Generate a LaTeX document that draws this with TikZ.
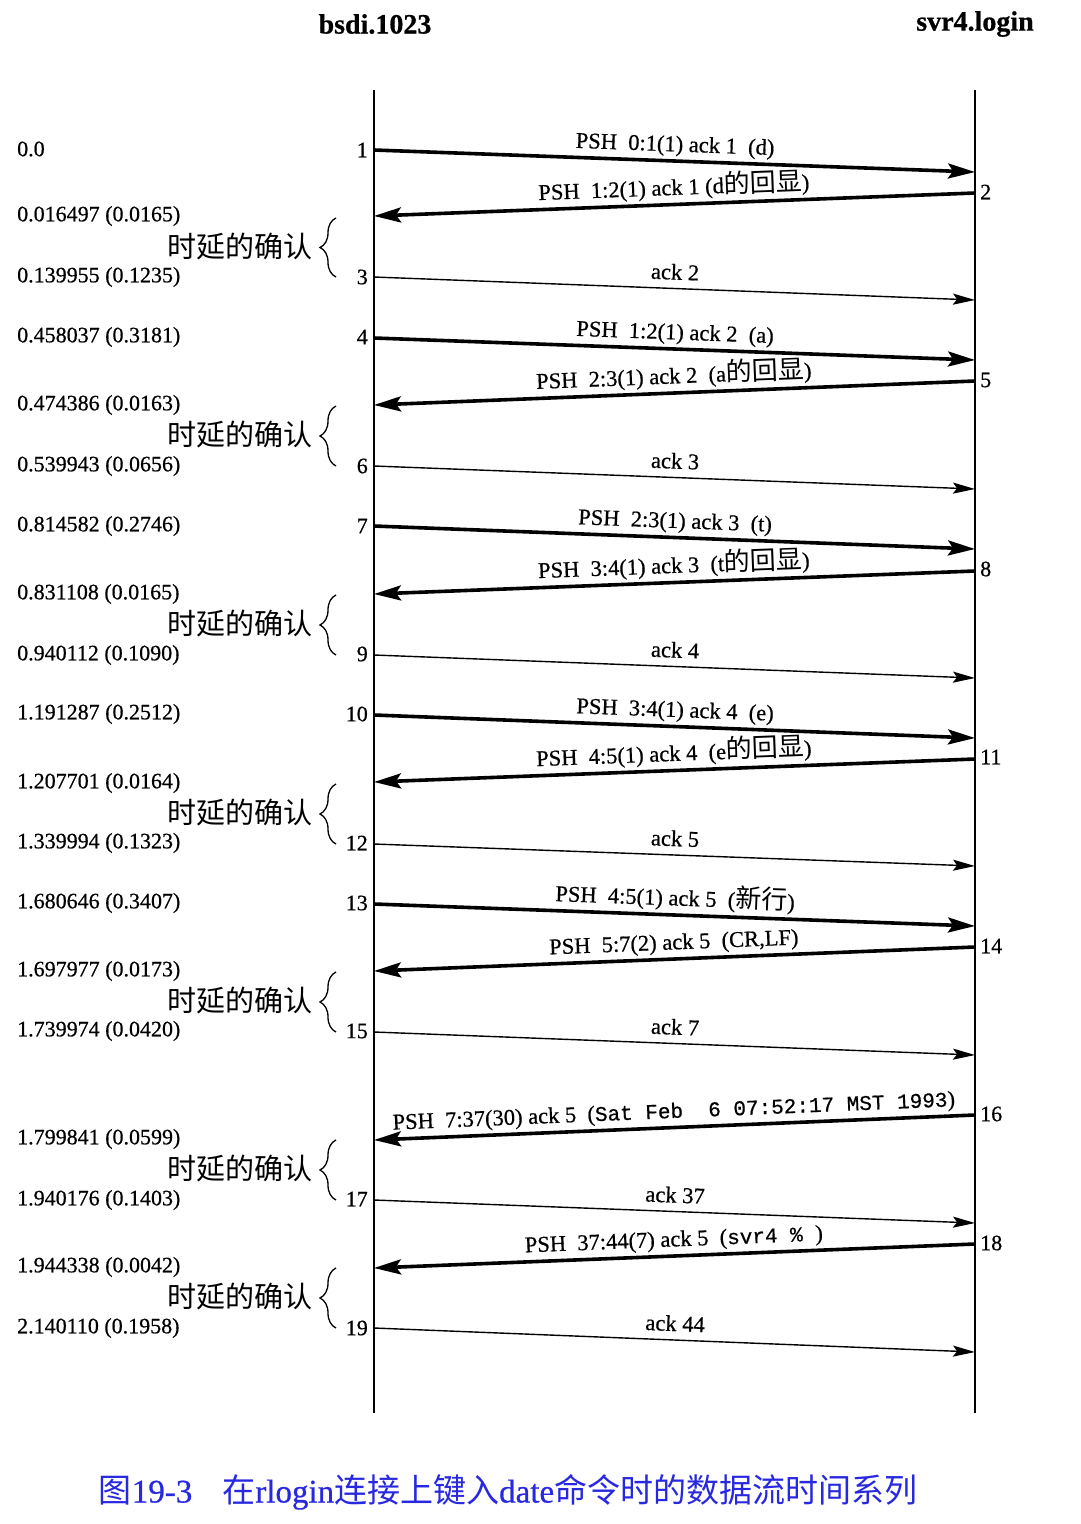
\documentclass[tikz,border=0pt]{standalone}
\usepackage{fontspec}
\setmainfont{Liberation Serif}[FakeBold=0.6]
\newfontfamily\cjk{Noto Sans CJK SC}
\newfontfamily\monof{Liberation Mono}[FakeBold=0.6]
\usetikzlibrary{arrows.meta,decorations.pathreplacing}
\newcommand\zh[1]{{\fontsize{26}{26}\selectfont\cjk #1}}
\definecolor{capblue}{RGB}{40,40,225}
\begin{document}
\begin{tikzpicture}[x=1pt,y=-1pt,
  lifeline/.style={line width=1.8pt},
  heavy/.style={line width=3.6pt,-{Stealth[length=27pt,width=15pt,inset=5pt]}},
  light/.style={line width=1.4pt,-{Stealth[length=22pt,width=11pt,inset=4pt]}},
  msg/.style={font=\fontsize{22.5}{22.5}\selectfont, sloped, above=2pt, midway, inner sep=1pt},
  lmsg/.style={msg, above=5pt},
  host/.style={font=\bfseries\fontsize{28}{28}\selectfont},
  tlab/.style={anchor=west, font=\fontsize{22}{22}\selectfont, inner sep=0pt},
  nleft/.style={anchor=east, font=\fontsize{22}{22}\selectfont, inner sep=1pt},
  nright/.style={anchor=west, font=\fontsize{22}{22}\selectfont, inner sep=1pt},
  dlab/.style={anchor=east, font=\fontsize{29}{29}\selectfont\cjk, inner sep=0pt},
  brc/.style={decorate, decoration={brace, amplitude=16pt}, line width=1.3pt},
  captionstyle/.style={font=\fontsize{33}{33}\selectfont, text=capblue}]
\useasboundingbox (0,0) rectangle (1080,1524);
\fill[white] (0,0) rectangle (1080,1524);

% hosts
\node[host] (hA) at (375,24) {bsdi.1023};
\node[host] (hB) at (975,24) {svr4.login};

% lifelines
\coordinate (Atop) at (374,90); \coordinate (Abot) at (374,1413);
\coordinate (Btop) at (975,90); \coordinate (Bbot) at (975,1413);
\draw[lifeline] (Atop) -- (Abot);
\draw[lifeline] (Btop) -- (Bbot);

% message end points
\coordinate (L1) at (374,150);  \coordinate (R1) at (975,172);
\coordinate (R2) at (975,193);  \coordinate (L2) at (374,216);
\coordinate (L3) at (374,277);  \coordinate (R3) at (975,300);
\coordinate (L4) at (374,338);  \coordinate (R4) at (975,360);
\coordinate (R5) at (975,381);  \coordinate (L5) at (374,405);
\coordinate (L6) at (374,466);  \coordinate (R6) at (975,489);
\coordinate (L7) at (374,526);  \coordinate (R7) at (975,549);
\coordinate (R8) at (975,571);  \coordinate (L8) at (374,594);
\coordinate (L9) at (374,655);  \coordinate (R9) at (975,678);
\coordinate (L10) at (374,715); \coordinate (R10) at (975,738);
\coordinate (R11) at (975,759); \coordinate (L11) at (374,782);
\coordinate (L12) at (374,844); \coordinate (R12) at (975,866);
\coordinate (L13) at (374,904); \coordinate (R13) at (975,926);
\coordinate (R14) at (975,947); \coordinate (L14) at (374,971);
\coordinate (L15) at (374,1032); \coordinate (R15) at (975,1055);
\coordinate (R16) at (975,1115); \coordinate (L16) at (374,1140);
\coordinate (L17) at (374,1200); \coordinate (R17) at (975,1223);
\coordinate (R18) at (975,1244); \coordinate (L18) at (374,1268);
\coordinate (L19) at (374,1328); \coordinate (R19) at (975,1352);

% messages
\draw[heavy] (L1) -- (R1) node[msg] {PSH\ \ 0:1(1) ack 1\ \ (d)};
\draw[heavy] (R2) -- (L2) node[msg] {PSH\ \ 1:2(1) ack 1 (d\zh{的回显})};
\draw[light] (L3) -- (R3) node[lmsg] {ack 2};
\draw[heavy] (L4) -- (R4) node[msg] {PSH\ \ 1:2(1) ack 2\ \ (a)};
\draw[heavy] (R5) -- (L5) node[msg] {PSH\ \ 2:3(1) ack 2\ \ (a\zh{的回显})};
\draw[light] (L6) -- (R6) node[lmsg] {ack 3};
\draw[heavy] (L7) -- (R7) node[msg] {PSH\ \ 2:3(1) ack 3\ \ (t)};
\draw[heavy] (R8) -- (L8) node[msg] {PSH\ \ 3:4(1) ack 3\ \ (t\zh{的回显})};
\draw[light] (L9) -- (R9) node[lmsg] {ack 4};
\draw[heavy] (L10) -- (R10) node[msg] {PSH\ \ 3:4(1) ack 4\ \ (e)};
\draw[heavy] (R11) -- (L11) node[msg] {PSH\ \ 4:5(1) ack 4\ \ (e\zh{的回显})};
\draw[light] (L12) -- (R12) node[lmsg] {ack 5};
\draw[heavy] (L13) -- (R13) node[msg] {PSH\ \ 4:5(1) ack 5\ \ (\zh{新行})};
\draw[heavy] (R14) -- (L14) node[msg] {PSH\ \ 5:7(2) ack 5\ \ (CR,LF)};
\draw[light] (L15) -- (R15) node[lmsg] {ack 7};
\draw[heavy] (R16) -- (L16) node[msg] {PSH\ \ 7:37(30) ack 5\ \ ({\monof\fontsize{21}{21}\selectfont Sat Feb\ \ 6 07:52:17 MST 1993})};
\draw[light] (L17) -- (R17) node[lmsg] {ack 37};
\draw[heavy] (R18) -- (L18) node[msg] {PSH\ \ 37:44(7) ack 5\ \ ({\monof\fontsize{21}{21}\selectfont svr4 \% })};
\draw[light] (L19) -- (R19) node[lmsg] {ack 44};

% segment numbers
\node[nleft] (n1) at (369,150) {1};
\node[nright] (n2) at (979,192) {2};
\node[nleft] (n3) at (369,277) {3};
\node[nleft] (n4) at (369,337) {4};
\node[nright] (n5) at (979,380) {5};
\node[nleft] (n6) at (369,466) {6};
\node[nleft] (n7) at (369,526) {7};
\node[nright] (n8) at (979,569) {8};
\node[nleft] (n9) at (369,654) {9};
\node[nleft] (n10) at (369,714) {10};
\node[nright] (n11) at (979,757) {11};
\node[nleft] (n12) at (369,843) {12};
\node[nleft] (n13) at (369,903) {13};
\node[nright] (n14) at (979,946) {14};
\node[nleft] (n15) at (369,1031) {15};
\node[nright] (n16) at (979,1114) {16};
\node[nleft] (n17) at (369,1199) {17};
\node[nright] (n18) at (979,1243) {18};
\node[nleft] (n19) at (369,1328) {19};

% times
\node[tlab] (t1) at (17,149) {0.0};
\node[tlab] (t2) at (17,216) {0.016497 (0.0165)};
\node[tlab] (t3) at (17,277) {0.139955 (0.1235)};
\node[tlab] (t4) at (17,337) {0.458037 (0.3181)};
\node[tlab] (t5) at (17,405) {0.474386 (0.0163)};
\node[tlab] (t6) at (17,466) {0.539943 (0.0656)};
\node[tlab] (t7) at (17,526) {0.814582 (0.2746)};
\node[tlab] (t8) at (17,594) {0.831108 (0.0165)};
\node[tlab] (t9) at (17,655) {0.940112 (0.1090)};
\node[tlab] (t10) at (17,714) {1.191287 (0.2512)};
\node[tlab] (t11) at (17,783) {1.207701 (0.0164)};
\node[tlab] (t12) at (17,843) {1.339994 (0.1323)};
\node[tlab] (t13) at (17,903) {1.680646 (0.3407)};
\node[tlab] (t14) at (17,971) {1.697977 (0.0173)};
\node[tlab] (t15) at (17,1031) {1.739974 (0.0420)};
\node[tlab] (t16) at (17,1139) {1.799841 (0.0599)};
\node[tlab] (t17) at (17,1200) {1.940176 (0.1403)};
\node[tlab] (t18) at (17,1267) {1.944338 (0.0042)};
\node[tlab] (t19) at (17,1328) {2.140110 (0.1958)};

% delayed ACK braces
\foreach \k/\a/\b in {1/218/277, 2/406/466, 3/595/655, 4/784/844, 5/972/1032, 6/1140/1200, 7/1268/1328}{
  \coordinate (bb\k) at (336,\b);
  \coordinate (bt\k) at (336,\a);
  \draw[brc] (bb\k) -- (bt\k);
  \node[dlab] (d\k) at (313,{(\a+\b)/2-1}) {时延的确认};
}

% caption
\node[captionstyle] (caption) at (508,1492) {{\cjk 图}19-3\hspace{30pt}{\cjk 在}rlogin{\cjk 连接上键入}date{\cjk 命令时的数据流时间系列}};
\end{tikzpicture}
\end{document}
